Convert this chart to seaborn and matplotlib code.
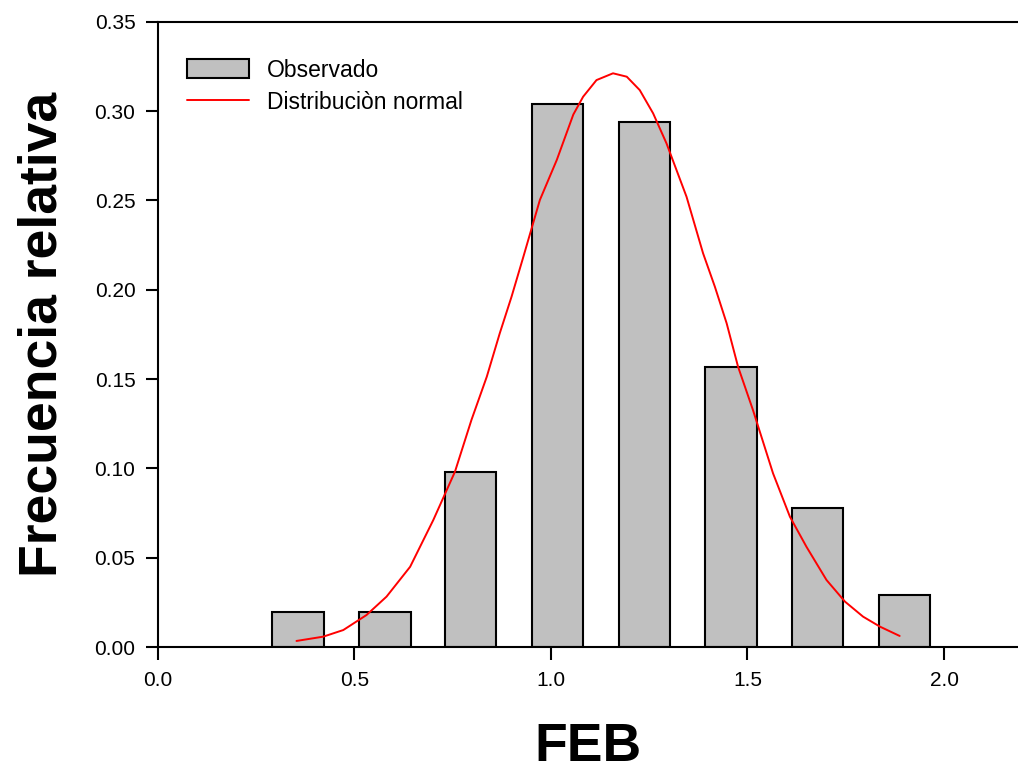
import matplotlib
matplotlib.use("Agg")
import matplotlib.pyplot as plt
import seaborn as sns
from matplotlib.patches import Patch
from matplotlib.lines import Line2D

# ---- data ----
bin_centers = [0.357, 0.578, 0.796, 1.017, 1.238, 1.458, 1.678, 1.900]
rel_freq = [0.0196, 0.0196, 0.098, 0.304, 0.294, 0.157, 0.078, 0.029]

curve_x = [0.353, 0.421, 0.472, 0.531, 0.582, 0.642, 0.701, 0.756, 0.798,
           0.837, 0.870, 0.900, 0.930, 0.972, 1.015, 1.057, 1.082, 1.116,
           1.158, 1.193, 1.226, 1.260, 1.294, 1.345, 1.387, 1.417, 1.447,
           1.476, 1.514, 1.565, 1.608, 1.650, 1.701, 1.748, 1.794, 1.837, 1.887]
curve_y = [0.0034, 0.0058, 0.0095, 0.0179, 0.0282, 0.0449, 0.0711, 0.0981, 0.1271,
           0.1513, 0.1756, 0.1961, 0.2184, 0.2502, 0.2726, 0.2980, 0.3080, 0.3173,
           0.3211, 0.3192, 0.3117, 0.2987, 0.2819, 0.2520, 0.2204, 0.2017, 0.1812,
           0.1569, 0.1326, 0.0972, 0.0729, 0.0561, 0.0375, 0.0254, 0.0170, 0.0114, 0.0062]

x_ticks = [0.0, 0.5, 1.0, 1.5, 2.0]
x_tick_labels = ["0.0", "0.5", "1.0", "1.5", "2.0"]
y_ticks = [0.00, 0.05, 0.10, 0.15, 0.20, 0.25, 0.30, 0.35]
y_tick_labels = ["0.00", "0.05", "0.10", "0.15", "0.20", "0.25", "0.30", "0.35"]

legend_labels = ["Observado", "Distribuciòn normal"]
x_label = "FEB"
y_label = "Frecuencia relativa"

# ---- style ----
sns.set_style("ticks")
plt.rcParams["font.family"] = ["Liberation Sans", "DejaVu Sans"]
plt.rcParams["text.color"] = "black"
plt.rcParams["axes.labelcolor"] = "black"
plt.rcParams["xtick.color"] = "black"
plt.rcParams["ytick.color"] = "black"

fig = plt.figure(figsize=(10.18, 7.71), dpi=100)
ax = fig.add_axes([0.1549, 0.1608, 1.0 - 0.1549, 0.9719 - 0.1608])

bar_color = "#c0c0c0"
sns.barplot(x=bin_centers, y=rel_freq, native_scale=True, width=0.6,
            color=bar_color, saturation=1, edgecolor="black", linewidth=1.5,
            errorbar=None, ax=ax)
sns.lineplot(x=curve_x, y=curve_y, color="red", linewidth=1.4, ax=ax)

ax.set_xlim(0, 2.188)
ax.set_ylim(0, 0.35)
ax.set_xticks(x_ticks)
ax.set_xticklabels(x_tick_labels)
ax.set_yticks(y_ticks)
ax.set_yticklabels(y_tick_labels)

for side in ["left", "bottom", "top"]:
    ax.spines[side].set_visible(True)
    ax.spines[side].set_linewidth(1.5)
    ax.spines[side].set_color("black")
ax.spines["right"].set_visible(False)

ax.tick_params(axis="both", direction="out", length=9, width=1.5,
               colors="black", labelsize=15, pad=7)
ax.tick_params(axis="x", pad=8)

ax.set_xlabel(x_label, fontsize=38.5, fontweight="bold")
ax.set_ylabel(y_label, fontsize=38.5, fontweight="bold")
ax.xaxis.set_label_coords(0.5, -0.12)
ax.yaxis.set_label_coords(-0.105, 0.5)

handles = [Patch(facecolor=bar_color, edgecolor="black", linewidth=1.5),
           Line2D([], [], color="red", linewidth=1.4)]
ax.legend(handles, legend_labels, loc="upper left",
          bbox_to_anchor=(0.034, 0.941), frameon=False, fontsize=16.5,
          handlelength=2.7, handleheight=0.9, handletextpad=0.8,
          labelspacing=0.4, borderpad=0, borderaxespad=0)

fig.savefig("out.png", dpi=100)
